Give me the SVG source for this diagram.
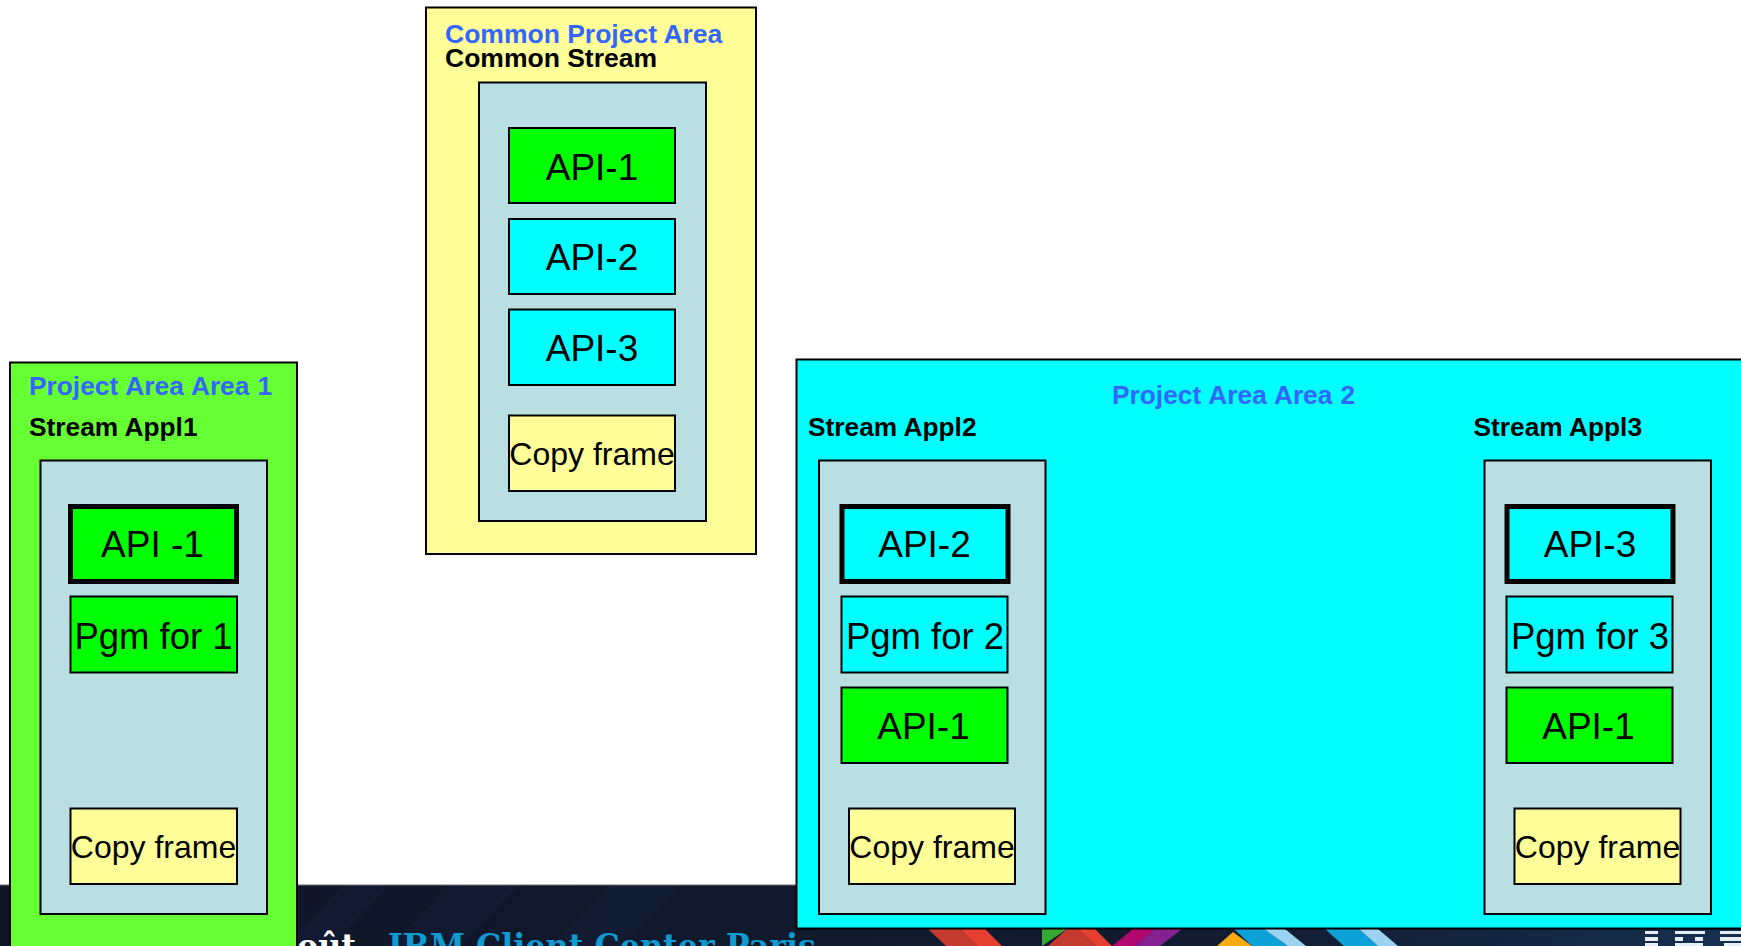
<svg xmlns="http://www.w3.org/2000/svg" width="1741" height="946" viewBox="0 0 1741 946">
<style>
.box{stroke:#000;stroke-width:2}
.thick{stroke:#000;stroke-width:5}
.y{fill:#ffff99}.s{fill:#b9dfe2}.g{fill:#00ff00}.c{fill:#00ffff}.lg{fill:#66ff33}
text{font-family:"Liberation Sans",Arial,sans-serif;fill:#000}
.t{font-size:37px}
.p{font-size:36.500px}
.cf{font-size:32px}
.h{font-size:26.300px;font-weight:bold}
.h2{font-size:26.500px;font-weight:bold}
.b{fill:#3366ff}
</style>
<defs>
<linearGradient id="bandG" x1="0" x2="1" y1="0" y2="0">
<stop offset="0" stop-color="#0f1526"/><stop offset="0.7" stop-color="#121b30"/><stop offset="1" stop-color="#15304f"/>
</linearGradient>
</defs>
<rect width="1741" height="946" fill="#fff"/>
<g id="footer">
<rect x="0" y="885" width="1741" height="61" fill="url(#bandG)"/>
<g fill="#14223f" opacity="0.35">
<polygon points="345,885 390,885 330,946 285,946"/>
<polygon points="450,885 520,885 460,946 390,946"/>
<polygon points="610,885 680,885 620,946 550,946"/>
</g>
<line x1="0" y1="885" x2="1741" y2="885" stroke="#6b6f7a" stroke-width="1"/>
<polygon points="928,929 960,929 977,946 946,946" fill="#c43a2e"/>
<polygon points="960,929 985,929 1002,946 977,946" fill="#e63f30"/>
<polygon points="1042,929 1067,929 1042,946" fill="#36a834"/>
<polygon points="1067,929 1078,929 1096,946 1048,946" fill="#c43a2e"/>
<polygon points="1078,929 1095,929 1112,946 1096,946" fill="#e63f30"/>
<polygon points="1133,929 1155,929 1135,946 1112,946" fill="#b0086f"/>
<polygon points="1155,929 1182,929 1160,946 1135,946" fill="#852090"/>
<polygon points="1233,932 1217,946 1252,946" fill="#f7ab12"/>
<polygon points="1234,929 1264,929 1288,946 1252,946" fill="#0ca2d8"/>
<polygon points="1264,929 1285,929 1306,946 1288,946" fill="#9dd3f2"/>
<polygon points="1325,929 1359,929 1378,946 1344,946" fill="#0ca2d8"/>
<polygon points="1359,929 1378,929 1398,946 1378,946" fill="#9dd3f2"/>
<g fill="#e8eef5">
<rect x="1645" y="931" width="13" height="3"/><rect x="1645" y="937" width="13" height="4"/><rect x="1645" y="943" width="13" height="3"/>
<rect x="1675" y="931" width="30" height="3"/><rect x="1675" y="937" width="8" height="4"/><rect x="1695" y="937" width="8" height="4"/><rect x="1675" y="943" width="28" height="3"/>
<rect x="1720" y="931" width="21" height="3"/><rect x="1720" y="937" width="21" height="4"/><rect x="1724" y="943" width="17" height="3"/>
</g>
<text x="297" y="958" font-size="33" font-weight="bold" style="font-family:'DejaVu Serif',serif;fill:#fff" textLength="59" lengthAdjust="spacingAndGlyphs">oût</text>
<text x="388" y="958" font-size="33" font-weight="bold" style="font-family:'DejaVu Serif',serif;fill:#0f9ad0" textLength="428" lengthAdjust="spacingAndGlyphs">IBM Client Center Paris</text>
</g>
<g id="common-area">
<rect class="box y" x="426" y="7.500" width="330" height="546.500"/>
<text class="h2 b" x="445" y="43">Common Project Area</text>
<text class="h2" x="445" y="67">Common Stream</text>
<rect class="box s" x="479" y="82.500" width="227" height="438.500"/>
</g>
<g id="common-api1"><rect class="box g" x="509" y="128" width="166" height="75"/><text class="t" x="592" y="180" text-anchor="middle">API-1</text></g>
<g id="common-api2"><rect class="box c" x="509" y="219" width="166" height="75"/><text class="t" x="592" y="270" text-anchor="middle">API-2</text></g>
<g id="common-api3"><rect class="box c" x="509" y="309.500" width="166" height="75.500"/><text class="t" x="592" y="361" text-anchor="middle">API-3</text></g>
<g id="common-copy"><rect class="box y" x="509" y="415.500" width="166" height="75.500"/><text class="cf" x="592" y="465" text-anchor="middle">Copy frame</text></g>

<g id="area1">
<rect class="box lg" x="10" y="362.500" width="287" height="600"/>
<text class="h b" x="29" y="395" word-spacing="0.800">Project Area Area 1</text>
<text class="h" x="29" y="436">Stream Appl1</text>
<rect class="box s" x="40.500" y="460.500" width="226.500" height="453.500"/>
</g>
<g id="a1-api"><rect class="thick g" x="70.500" y="506.500" width="166" height="75"/><text class="t" x="152.500" y="557" text-anchor="middle">API -1</text></g>
<g id="a1-pgm"><rect class="box g" x="70.500" y="596.500" width="166.500" height="76"/><text class="p" x="153.500" y="649" text-anchor="middle">Pgm for 1</text></g>
<g id="a1-copy"><rect class="box y" x="70.500" y="808.500" width="166.500" height="75.500"/><text class="cf" x="153.500" y="858" text-anchor="middle">Copy frame</text></g>

<g id="area2">
<rect class="box c" x="796.500" y="359.500" width="960" height="569"/>
<text class="h b" x="1112" y="404" word-spacing="0.800">Project Area Area 2</text>
<text class="h" x="808" y="436">Stream Appl2</text>
<text class="h" x="1473.500" y="436">Stream Appl3</text>
<rect class="box s" x="819" y="460.500" width="226.500" height="453.500"/>
<rect class="box s" x="1484.500" y="460.500" width="226.500" height="453.500"/>
</g>
<g id="a2-api2"><rect class="thick c" x="842" y="506.500" width="166" height="75"/><text class="t" x="924.500" y="557" text-anchor="middle">API-2</text></g>
<g id="a2-pgm"><rect class="box c" x="841.500" y="596.500" width="166" height="76"/><text class="p" x="925" y="649" text-anchor="middle">Pgm for 2</text></g>
<g id="a2-api1"><rect class="box g" x="841.500" y="687.500" width="166" height="75.500"/><text class="t" x="923.500" y="739" text-anchor="middle">API-1</text></g>
<g id="a2-copy"><rect class="box y" x="849" y="808.500" width="166" height="75.500"/><text class="cf" x="932" y="858" text-anchor="middle">Copy frame</text></g>
<g id="a3-api3"><rect class="thick c" x="1507" y="506.500" width="166" height="75"/><text class="t" x="1590" y="557" text-anchor="middle">API-3</text></g>
<g id="a3-pgm"><rect class="box c" x="1506.500" y="596.500" width="166" height="76"/><text class="p" x="1590" y="649" text-anchor="middle">Pgm for 3</text></g>
<g id="a3-api1"><rect class="box g" x="1506.500" y="687.500" width="166" height="75.500"/><text class="t" x="1588.500" y="739" text-anchor="middle">API-1</text></g>
<g id="a3-copy"><rect class="box y" x="1514.500" y="808.500" width="166" height="75.500"/><text class="cf" x="1597.500" y="858" text-anchor="middle">Copy frame</text></g>
<g id="connectors"></g>
</svg>
